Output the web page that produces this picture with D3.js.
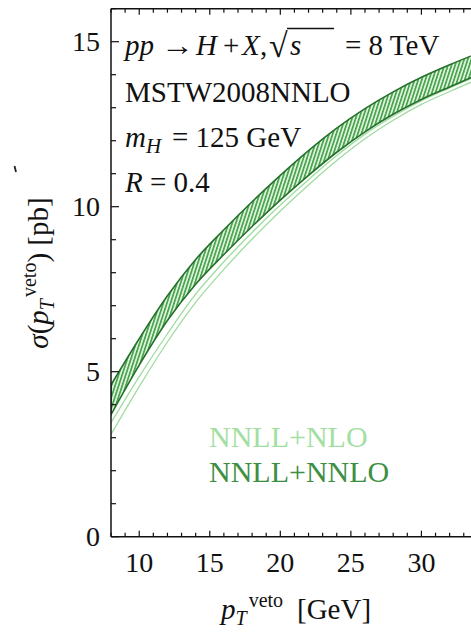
<!DOCTYPE html>
<html>
<head>
<meta charset="utf-8">
<script src="https://cdn.jsdelivr.net/npm/d3@7"></script>
<style>
  html, body { margin: 0; padding: 0; background: #fff; }
  svg { display: block; }
  text { font-family: "Liberation Serif", "DejaVu Serif", serif; fill: #111; }
</style>
</head>
<body>
<svg id="chart" width="471" height="632"></svg>
<script>
// Jet-veto cross section vs pT veto scale
const pTveto   = [8, 10, 12, 14, 16, 18, 20, 22, 24, 26, 28, 30, 32, 34];
// NNLL+NNLO uncertainty band
const nnloHigh = [4.6, 6.0, 7.3, 8.4, 9.3, 10.15, 10.95, 11.7, 12.38, 12.97, 13.48, 13.92, 14.3, 14.65];
const nnloLow  = [3.7, 5.2, 6.55, 7.65, 8.55, 9.4, 10.2, 10.95, 11.65, 12.27, 12.8, 13.25, 13.63, 14.0];
// NNLL+NLO uncertainty band
const nloHigh  = [3.45, 4.85, 6.15, 7.35, 8.33, 9.22, 10.05, 10.82, 11.55, 12.2, 12.74, 13.21, 13.6, 13.97];
const nloLow   = [3.1, 4.55, 5.9, 7.1, 8.1, 9.02, 9.87, 10.66, 11.4, 12.06, 12.62, 13.1, 13.49, 13.86];

const xMajor = [10, 15, 20, 25, 30];
const yMajor = [0, 5, 10, 15];
const legendLabels = ["NNLL+NLO", "NNLL+NNLO"];

(function draw() {
  const svg = d3.select("#chart");
  const mLeft = 111, mBottom = 536.7, mTop = 8.7;
  const x = d3.scaleLinear().domain([8, 35]).range([mLeft, mLeft + 27 * 14.11]);
  const y = d3.scaleLinear().domain([0, 16]).range([mBottom, mTop]);

  const defs = svg.append("defs");
  defs.append("clipPath").attr("id", "plotclip")
    .append("rect").attr("x", mLeft).attr("y", mTop)
    .attr("width", x(35) - mLeft).attr("height", mBottom - mTop);

  const pat = defs.append("pattern").attr("id", "hatch")
    .attr("patternUnits", "userSpaceOnUse").attr("width", 3.4).attr("height", 10)
    .attr("patternTransform", "rotate(18)");
  pat.append("rect").attr("width", 3.4).attr("height", 10).attr("fill", "#dcf2da");
  pat.append("rect").attr("width", 1.6).attr("height", 10).attr("fill", "#43a048");

  const plot = svg.append("g").attr("clip-path", "url(#plotclip)");

  const rows = pTveto.map((p, i) => ({ p, nh: nnloHigh[i], nl: nnloLow[i], lh: nloHigh[i], ll: nloLow[i] }));
  const curve = d3.curveMonotoneX;

  // NNLL+NLO band edges (thin light lines)
  const lineOf = key => d3.line().curve(curve).x(d => x(d.p)).y(d => y(d[key]));
  ["ll", "lh"].forEach(k => plot.append("path").datum(rows).attr("d", lineOf(k))
    .attr("fill", "none").attr("stroke", "#9fdc9f").attr("stroke-width", 1.3));

  // NNLL+NNLO hatched band
  plot.append("path").datum(rows)
    .attr("d", d3.area().curve(curve).x(d => x(d.p)).y0(d => y(d.nl)).y1(d => y(d.nh)))
    .attr("fill", "url(#hatch)").attr("stroke", "#26702c").attr("stroke-width", 1.6);

  // frame
  const axisG = svg.append("g").attr("stroke", "#111").attr("stroke-width", 1.5).attr("fill", "none");
  axisG.append("line").attr("x1", mLeft).attr("x2", mLeft).attr("y1", mTop).attr("y2", mBottom);
  axisG.append("line").attr("x1", mLeft).attr("x2", x(35)).attr("y1", mBottom).attr("y2", mBottom);
  axisG.append("line").attr("x1", mLeft).attr("x2", x(35)).attr("y1", mTop).attr("y2", mTop);

  // inward ticks on bottom, top and left
  const tickG = svg.append("g").attr("stroke", "#111").attr("stroke-width", 1.2);
  d3.range(8, 36, 1).forEach(v => {
    const len = v % 5 === 0 ? 6 : 4;
    tickG.append("line").attr("x1", x(v)).attr("x2", x(v)).attr("y1", mBottom).attr("y2", mBottom - len);
    tickG.append("line").attr("x1", x(v)).attr("x2", x(v)).attr("y1", mTop).attr("y2", mTop + len);
  });
  d3.range(0, 17, 1).forEach(v => {
    const len = v % 5 === 0 ? 8 : 5;
    tickG.append("line").attr("x1", mLeft).attr("x2", mLeft + len).attr("y1", y(v)).attr("y2", y(v));
  });

  // tick labels
  svg.append("g").selectAll("text").data(xMajor).join("text")
    .attr("x", d => x(d)).attr("y", 572).attr("text-anchor", "middle")
    .attr("font-size", 28).text(d => d);
  svg.append("g").selectAll("text").data(yMajor).join("text")
    .attr("x", 100).attr("y", d => y(d) + 9.5).attr("text-anchor", "end")
    .attr("font-size", 28).text(d => d);

  // axis titles
  const xt = svg.append("text").attr("x", 221).attr("y", 619).attr("font-size", 29);
  xt.append("tspan").attr("font-style", "italic").text("p");
  xt.append("tspan").attr("font-style", "italic").attr("font-size", 20).attr("dy", 6).text("T");
  xt.append("tspan").attr("font-size", 20).attr("dy", -18).attr("dx", 2).text("veto");
  xt.append("tspan").attr("dy", 12).attr("x", 297).text("[GeV]");

  const yt = svg.append("text").attr("transform", "translate(48,273) rotate(-90)")
    .attr("text-anchor", "middle").attr("font-size", 29);
  yt.append("tspan").attr("font-style", "italic").text("σ");
  yt.append("tspan").text("(");
  yt.append("tspan").attr("font-style", "italic").text("p");
  yt.append("tspan").attr("font-style", "italic").attr("font-size", 20).attr("dy", 6).text("T");
  yt.append("tspan").attr("font-size", 20).attr("dy", -18).attr("dx", 2).text("veto");
  yt.append("tspan").attr("dy", 12).text(") [pb]");

  // process annotations
  const fs = 29;
  const put = (txt, xx, yy, opts = {}) => {
    const t = svg.append("text").attr("x", xx).attr("y", yy).attr("font-size", opts.size || fs).text(txt);
    if (opts.italic) t.attr("font-style", "italic");
    return t;
  };
  put("pp", 125, 55, { italic: true });
  put("→", 161, 55).attr("textLength", 33).attr("lengthAdjust", "spacingAndGlyphs");
  put("H", 196, 55, { italic: true });
  put("+", 223, 55);
  put("X", 242, 55, { italic: true });
  put(",", 260, 55);
  put("√", 269, 57, { size: 34 });
  put("s", 290, 55, { italic: true });
  svg.append("line").attr("x1", 287).attr("x2", 334).attr("y1", 28.5).attr("y2", 28.5)
    .attr("stroke", "#111").attr("stroke-width", 1.3);
  put("= 8 TeV", 345, 55);

  put("MSTW2008NNLO", 125, 102);

  put("m", 125, 147, { italic: true });
  put("H", 146, 153, { italic: true, size: 21 });
  put("= 125 GeV", 172, 147);

  put("R", 125, 192, { italic: true });
  put("= 0.4", 150, 192);

  // small stray mark at the far left
  svg.append("line").attr("x1", 14.5).attr("x2", 16).attr("y1", 166).attr("y2", 172)
    .attr("stroke", "#222").attr("stroke-width", 1.8);

  // legend
  const legendColors = ["#a3dfa3", "#3d8f42"];
  svg.append("g").selectAll("text").data(legendLabels).join("text")
    .attr("x", 209).attr("y", (d, i) => 447 + i * 35).attr("font-size", 30)
    .style("fill", (d, i) => legendColors[i]).text(d => d);
})();
</script>
</body>
</html>
